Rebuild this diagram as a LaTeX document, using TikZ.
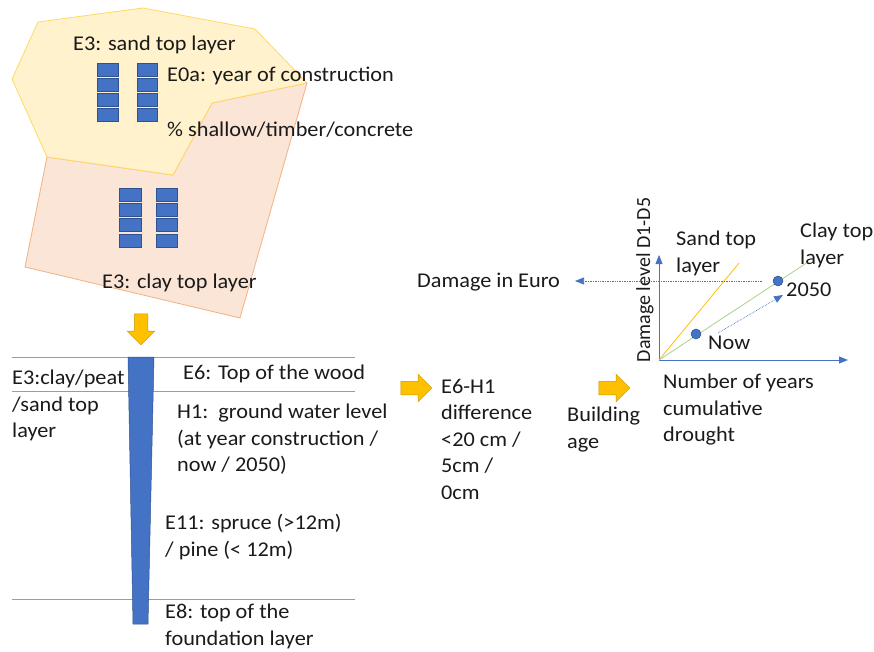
\documentclass[tikz,border=0pt]{standalone}
\usepackage{fontspec}
\setmainfont{Carlito}[FakeStretch=1.06]
\newfontfamily\axisfont{Carlito}
\usetikzlibrary{shapes.arrows,arrows.meta,positioning}

\definecolor{winblue}{HTML}{4472C4}
\definecolor{winedge}{HTML}{2F528F}
\definecolor{sandfill}{HTML}{FFF2CC}
\definecolor{sandedge}{HTML}{FFD966}
\definecolor{clayfill}{HTML}{FBE5D6}
\definecolor{clayedge}{HTML}{F4B183}
\definecolor{arrowgold}{HTML}{FFC000}
\definecolor{arrowedge}{HTML}{C99700}
\definecolor{layerblue}{HTML}{7F9FD6}
\definecolor{claygreen}{HTML}{A9D18E}
\definecolor{inktext}{HTML}{1A1A1A}

\begin{document}
\begin{tikzpicture}[x=1pt,y=-1pt,
    txt/.style={anchor=west,inner sep=0pt,text=inktext},
    txtblock/.style={anchor=north west,inner sep=0pt,align=left,text=inktext},
    win/.style={fill=winblue,draw=winedge,line width=0.6pt},
    goldarrow/.style={single arrow,fill=arrowgold,draw=arrowedge,line width=0.5pt,
      minimum height=31pt,inner sep=6.5pt,single arrow head extend=7pt},
    layer/.style={draw=layerblue,line width=0.8pt},
    axis/.style={draw=winblue,line width=0.8pt,-{Triangle[length=9pt,width=7pt]}},
    dot/.style={circle,fill=winblue,draw=winedge,line width=0.5pt,minimum size=10pt,inner sep=0pt}]
  \fontsize{21}{26.5}\selectfont
  \useasboundingbox (0,0) rectangle (874,652);

  % plots with buildings
  \filldraw[fill=clayfill,draw=clayedge,line width=0.8pt] (47,157) -- (173,175) -- (212,103)
    -- (307,83) -- (240,318) -- (25,267) -- cycle;
  \filldraw[fill=sandfill,draw=sandedge,line width=0.8pt] (38,22) -- (143,8) -- (255,29)
    -- (307,83) -- (212,103) -- (173,175) -- (47,157) -- (12,79) -- cycle;
  \foreach \y in {63,78,93,108} {
    \filldraw[win] (97,\y) rectangle (118,\y+13);
    \filldraw[win] (137,\y) rectangle (157,\y+13);
  }
  \foreach \y in {188,203,218,234} {
    \filldraw[win] (119,\y) rectangle (141,\y+13);
    \filldraw[win] (156,\y) rectangle (177,\y+13);
  }
  \node[txt] (sandplot) at (73,45) {E3: sand top layer};
  \node[txt] (e0a) at (167,76) {E0a: year of construction};
  \node[txt] (share) at (167,130) {\% shallow/timber/concrete};
  \node[txt] (clayplot) at (102,283) {E3: clay top layer};

  \node[goldarrow,shape border rotate=270] (down) at (141,326) {};

  % soil profile with pile
  \coordinate (l1w) at (12,357);  \coordinate (l1e) at (355,357);
  \coordinate (l2w) at (12,391);  \coordinate (l2e) at (355,391);
  \coordinate (l3w) at (12,599);  \coordinate (l3e) at (355,599);
  \draw[layer] (l1w) -- (l1e);
  \draw[layer] (l2w) -- (l2e);
  \draw[layer] (l3w) -- (l3e);
  \filldraw[fill=winblue,draw=winedge,line width=0.5pt] (128,357) -- (154,357) -- (148,624)
    -- (133,624) -- cycle;
  \node[txtblock] (soil) at (12,370) {E3:clay/peat\\/sand top\\layer};
  \node[txt] (e6) at (183,374) {E6: Top of the wood};
  \node[txtblock] (h1) at (177,404) {H1:\ \ ground water level\\(at year construction /\\now / 2050)};
  \node[txtblock] (e11) at (165,514) {E11: spruce (>12m)\\/ pine (< 12m)};
  \node[txtblock] (e8) at (165,604) {E8: top of the\\foundation layer};

  \node[goldarrow] (right1) at (413,388) {};
  \node[txtblock] (diff) at (441,379) {E6-H1\\difference\\<20 cm /\\5cm /\\0cm};
  \node[txtblock] (age) at (567,407) {Building\\age};
  \node[goldarrow] (right2) at (611,388) {};

  % damage chart
  \coordinate (O) at (659,360);
  \coordinate (ytop) at (659,255);
  \coordinate (xend) at (848,360);
  \coordinate (sandend) at (739,263);
  \coordinate (clayend) at (808,262);
  \coordinate (euroR) at (762,281);
  \coordinate (euroL) at (575,281);
  \coordinate (trendA) at (718,333);
  \coordinate (trendB) at (783,295);
  \draw[axis] (O) -- (ytop);
  \draw[axis] (O) -- (xend);
  \draw[arrowgold,line width=0.8pt] (O) -- (sandend);
  \draw[claygreen,line width=0.8pt] (O) -- (clayend);
  \draw[winblue,densely dotted,line width=0.7pt,-{Triangle[length=9pt,width=7pt]}] (euroR) -- (euroL);
  \draw[winblue,densely dotted,line width=0.7pt,-{Triangle[length=9pt,width=7pt]}] (trendA) -- (trendB);
  \node[dot] (nowdot) at (696,334) {};
  \node[dot] (dot2050) at (778,281) {};
  \node[txt,rotate=90,anchor=center,font=\axisfont\fontsize{20}{24}\selectfont] (ylabel) at (645,280) {Damage level D1-D5};
  \node[txt] (euro) at (417,282) {Damage in Euro};
  \node[txtblock] (sandlbl) at (676,231) {Sand top\\layer};
  \node[txtblock] (claylbl) at (800,223) {Clay top\\layer};
  \node[txt] (lbl2050) at (786,290) {2050};
  \node[txt] (lblnow) at (708,343) {Now};
  \node[txtblock] (years) at (663,374) {Number of years\\cumulative\\drought};
\end{tikzpicture}
\end{document}
